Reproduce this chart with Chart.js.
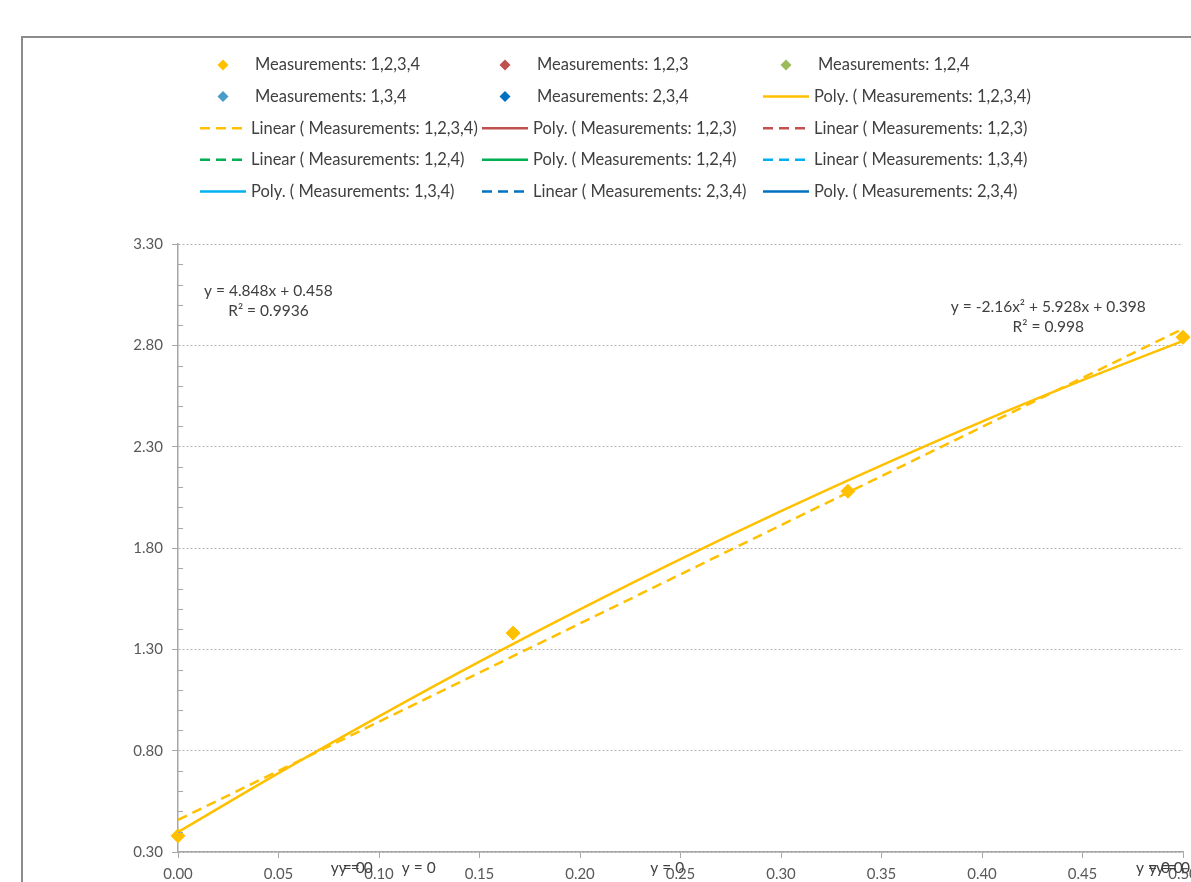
<!DOCTYPE html>
<html>
<head>
<meta charset="utf-8">
<script src="https://cdn.jsdelivr.net/npm/chart.js@4.4.1/dist/chart.umd.min.js"></script>
<style>
  html, body { margin: 0; padding: 0; background: #fff; overflow: hidden; }
  #wrap { position: relative; width: 1191px; height: 882px; }
</style>
</head>
<body>
<div id="wrap"><canvas id="chart" width="1191" height="882"></canvas></div>
<script>
// axis ticks
const xTicks = [0, 0.05, 0.1, 0.15, 0.2, 0.25, 0.3, 0.35, 0.4, 0.45, 0.5];
const yTicks = [0.3, 0.8, 1.3, 1.8, 2.3, 2.8, 3.3];

// measured points (only series 1,2,3,4 is visible)
const measX = [0, 0.1667, 0.3333, 0.5];
const meas1234 = [0.38, 1.38, 2.08, 2.84];

// trendlines for 1,2,3,4
const polyX = [0, 0.05, 0.1, 0.15, 0.2, 0.25, 0.3, 0.35, 0.4, 0.45, 0.5];
const poly1234 = [0.398, 0.689, 0.969, 1.239, 1.497, 1.745, 1.982, 2.208, 2.424, 2.628, 2.822];
const linX = [0, 0.5];
const lin1234 = [0.458, 2.882];

const linEqText = ["y = 4.848x + 0.458", "R² = 0.9936"];
const polyEqText = ["y = -2.16x² + 5.928x + 0.398", "R² = 0.998"];
const zeroEqText = "y = 0";

const FONT = "Lato";
const ORANGE = "#FFC000";

const pts = (xs, ys) => xs.map((x, i) => ({ x: x, y: ys[i] }));

function marker(label, color, data) {
  return {
    label, data: data || [], showLine: false, clip: false,
    pointStyle: "rectRot", pointRadius: 7, pointHoverRadius: 7,
    backgroundColor: color, borderColor: color, borderWidth: 1, order: 0
  };
}
function trend(label, color, dashed, data) {
  return {
    label, data: data || [], showLine: true, pointRadius: 0,
    borderColor: color, backgroundColor: color, borderWidth: 2.5,
    borderDash: dashed ? [10, 6] : [], cubicInterpolationMode: "monotone", order: 1
  };
}

const datasets = [
  marker("Measurements: 1,2,3,4", ORANGE, pts(measX, meas1234)),
  marker("Measurements: 1,2,3", "#C0504D"),
  marker("Measurements: 1,2,4", "#9BBB59"),
  marker("Measurements: 1,3,4", "#4A9CC8"),
  marker("Measurements: 2,3,4", "#0070C0"),
  trend("Poly. ( Measurements: 1,2,3,4)", ORANGE, false, pts(polyX, poly1234)),
  trend("Linear ( Measurements: 1,2,3,4)", ORANGE, true, pts(linX, lin1234)),
  trend("Poly. ( Measurements: 1,2,3)", "#C0504D", false),
  trend("Linear ( Measurements: 1,2,3)", "#C0504D", true),
  trend("Linear ( Measurements: 1,2,4)", "#00B050", true),
  trend("Poly. ( Measurements: 1,2,4)", "#00B050", false),
  trend("Linear ( Measurements: 1,3,4)", "#00B0F0", true),
  trend("Poly. ( Measurements: 1,3,4)", "#00B0F0", false),
  trend("Linear ( Measurements: 2,3,4)", "#0070C0", true),
  trend("Poly. ( Measurements: 2,3,4)", "#0070C0", false)
];

// frame, grid legend, minor ticks and equation labels
const extras = {
  id: "extras",
  beforeDraw(chart) {
    const ctx = chart.ctx;
    ctx.save();
    ctx.strokeStyle = "#8c8c8c";
    ctx.lineWidth = 2;
    ctx.beginPath();
    ctx.moveTo(22, 882);
    ctx.lineTo(22, 37);
    ctx.lineTo(1191, 37);
    ctx.stroke();
    ctx.restore();
  },
  afterDraw(chart) {
    const ctx = chart.ctx;
    const xs = chart.scales.x, ys = chart.scales.y;
    const area = chart.chartArea;
    ctx.save();

    // minor ticks on the value axis
    ctx.strokeStyle = "#a6a6a6";
    ctx.lineWidth = 1;
    for (let i = 0; i < yTicks.length - 1; i++) {
      for (let k = 1; k < 5; k++) {
        const py = Math.round(ys.getPixelForValue(yTicks[i] + k * 0.1)) + 0.5;
        ctx.beginPath();
        ctx.moveTo(area.left, py);
        ctx.lineTo(area.left + 5, py);
        ctx.stroke();
      }
    }

    // legend laid out in 3 columns
    const cols = [200, 482, 763];
    ctx.font = "16.5px " + FONT;
    ctx.textBaseline = "middle";
    ctx.textAlign = "left";
    chart.data.datasets.forEach((ds, i) => {
      const x0 = cols[i % 3];
      const y0 = 65 + Math.floor(i / 3) * 31.6;
      if (ds.showLine) {
        ctx.strokeStyle = ds.borderColor;
        ctx.lineWidth = 2.5;
        ctx.setLineDash(ds.borderDash);
        ctx.beginPath();
        ctx.moveTo(x0, y0);
        ctx.lineTo(x0 + 46, y0);
        ctx.stroke();
        ctx.setLineDash([]);
        ctx.fillStyle = "#404040";
        ctx.fillText(ds.label, x0 + 51, y0);
      } else {
        const cx = x0 + 23, r = 5.5;
        ctx.fillStyle = ds.backgroundColor;
        ctx.beginPath();
        ctx.moveTo(cx, y0 - r);
        ctx.lineTo(cx + r, y0);
        ctx.lineTo(cx, y0 + r);
        ctx.lineTo(cx - r, y0);
        ctx.closePath();
        ctx.fill();
        ctx.fillStyle = "#404040";
        ctx.fillText(ds.label, x0 + 55, y0);
      }
    });

    // trendline equations
    ctx.font = "15.5px " + FONT;
    ctx.fillStyle = "#404040";
    ctx.textAlign = "center";
    let cx = xs.getPixelForValue(0.045), cy = ys.getPixelForValue(3.07);
    ctx.fillText(linEqText[0], cx, cy);
    ctx.fillText(linEqText[1], cx, cy + 20);
    cx = xs.getPixelForValue(0.433); cy = ys.getPixelForValue(2.99);
    ctx.fillText(polyEqText[0], cx, cy);
    ctx.fillText(polyEqText[1], cx, cy + 20);

    // "y = 0" labels of the empty series
    ctx.textAlign = "left";
    [0.076, 0.080, 0.1113, 0.235, 0.4766, 0.483, 0.4866].forEach(v => {
      ctx.fillText(zeroEqText, xs.getPixelForValue(v), area.bottom + 16);
    });
    ctx.restore();
  }
};

new Chart(document.getElementById("chart"), {
  type: "scatter",
  data: { datasets },
  options: {
    responsive: false,
    animation: false,
    events: [],
    layout: { padding: { top: 244, right: 7, left: 0, bottom: 0 } },
    plugins: { legend: { display: false }, tooltip: { enabled: false } },
    scales: {
      x: {
        type: "linear", min: 0, max: 0.5,
        afterBuildTicks: s => { s.ticks = xTicks.map(v => ({ value: v })); },
        afterFit: s => { s.height = 30; s.paddingLeft = 0; s.paddingRight = 0; },
        ticks: {
          callback: v => v.toFixed(2), autoSkip: false, maxRotation: 0,
          color: "#595959", font: { family: FONT, size: 15 }, padding: 7
        },
        grid: { drawOnChartArea: false, drawTicks: true, tickLength: 6, tickColor: "#a6a6a6" },
        border: { color: "#a6a6a6", width: 1.5 }
      },
      y: {
        type: "linear", min: 0.3, max: 3.3,
        afterBuildTicks: s => { s.ticks = yTicks.map(v => ({ value: v })); },
        afterFit: s => { s.width = 178; s.paddingTop = 0; s.paddingBottom = 0; },
        ticks: {
          callback: v => v.toFixed(2),
          color: "#595959", font: { family: FONT, size: 15 }, padding: 9
        },
        grid: { color: "#b3b3b3", lineWidth: 1, tickLength: 6, tickColor: "#a6a6a6" },
        border: { color: "#a6a6a6", width: 1.5, dash: [2, 2] }
      }
    }
  },
  plugins: [extras]
});
</script>
</body>
</html>
